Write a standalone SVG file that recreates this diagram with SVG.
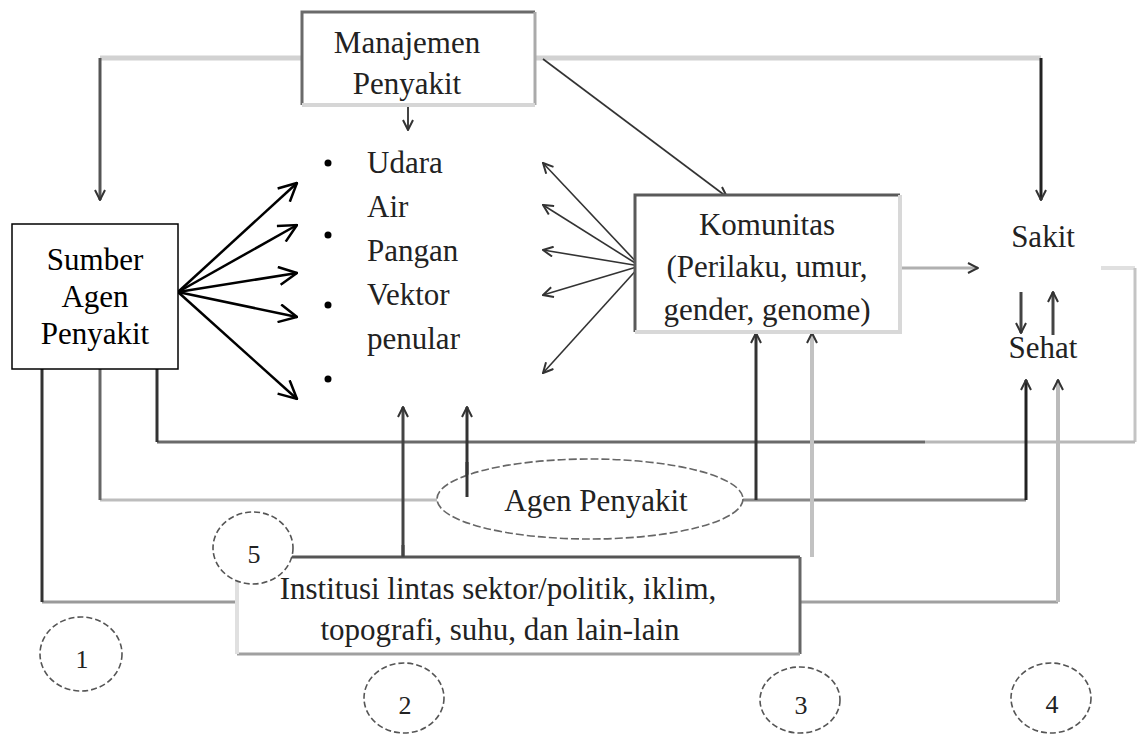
<svg xmlns="http://www.w3.org/2000/svg" width="1138" height="734" viewBox="0 0 1138 734">
<style>
text{font-family:"Liberation Serif","Times New Roman",serif;font-size:31px;fill:#222}
.crisp{fill:#000}
.num{font-size:26px;text-anchor:middle}
.c{text-anchor:middle}
.ring{fill:#fff;stroke:#555;stroke-width:1.6;stroke-dasharray:6 3}
.fan{stroke:#000;stroke-width:2.5;fill:none}
.thin{stroke:#333;stroke-width:1.6;fill:none}
</style>
<defs>
<marker id="big" viewBox="0 0 20 20" refX="19" refY="10" markerWidth="20" markerHeight="20" markerUnits="userSpaceOnUse" orient="auto">
<path d="M1,1 L19,10 L1,19" fill="none" stroke="#000" stroke-width="2.5"/>
</marker>
<marker id="sm" viewBox="0 0 12 12" refX="11" refY="6" markerWidth="12" markerHeight="12" markerUnits="userSpaceOnUse" orient="auto">
<path d="M1,1 L11,6 L1,11" fill="none" stroke="#333" stroke-width="2"/>
</marker>
</defs>
<rect width="1138" height="734" fill="#fff"/>

<g id="connectors" fill="none">
<!-- Manajemen to Sumber -->
<line x1="302" y1="58" x2="100" y2="58" stroke="#d2d2d2" stroke-width="5"/>
<line x1="100" y1="58" x2="100" y2="200" stroke="#555" stroke-width="3" marker-end="url(#sm)"/>
<!-- Manajemen to Sakit -->
<line x1="535" y1="58" x2="1041" y2="58" stroke="#d2d2d2" stroke-width="5"/>
<line x1="1041" y1="58" x2="1041" y2="200" stroke="#222" stroke-width="3" marker-end="url(#sm)"/>
<!-- Manajemen down to list -->
<line x1="408" y1="100" x2="408" y2="130" stroke="#444" stroke-width="2" marker-end="url(#sm)"/>
<!-- Manajemen diagonal to Komunitas -->
<line class="thin" x1="543" y1="59" x2="727" y2="197" marker-end="url(#sm)"/>
<!-- fan from Sumber -->
<line class="fan" x1="178" y1="292" x2="297" y2="183" marker-end="url(#big)"/>
<line class="fan" x1="178" y1="292" x2="297" y2="225" marker-end="url(#big)"/>
<line class="fan" x1="178" y1="292" x2="297" y2="273" marker-end="url(#big)"/>
<line class="fan" x1="178" y1="292" x2="297" y2="317" marker-end="url(#big)"/>
<line class="fan" x1="178" y1="292" x2="297" y2="399" marker-end="url(#big)"/>
<!-- Komunitas to list -->
<line class="thin" x1="640" y1="266" x2="543" y2="163" marker-end="url(#sm)"/>
<line class="thin" x1="640" y1="266" x2="543" y2="205" marker-end="url(#sm)"/>
<line class="thin" x1="640" y1="266" x2="543" y2="250" marker-end="url(#sm)"/>
<line class="thin" x1="640" y1="266" x2="543" y2="295" marker-end="url(#sm)"/>
<line class="thin" x1="640" y1="266" x2="543" y2="373" marker-end="url(#sm)"/>
<!-- Komunitas to Sakit -->
<line x1="900" y1="268" x2="978" y2="268" stroke="#b0b0b0" stroke-width="3" marker-end="url(#sm)"/>
<!-- Sakit / Sehat -->
<line x1="1021" y1="292" x2="1021" y2="333" stroke="#444" stroke-width="3" marker-end="url(#sm)"/>
<line x1="1053" y1="335" x2="1053" y2="292" stroke="#444" stroke-width="3" marker-end="url(#sm)"/>
<!-- loop from Sakit/Sehat back to Sumber -->
<line x1="1101" y1="268" x2="1135" y2="268" stroke="#e0e0e0" stroke-width="4"/>
<line x1="1135" y1="268" x2="1135" y2="442" stroke="#c4c4c4" stroke-width="3"/>
<line x1="1135" y1="442" x2="925" y2="442" stroke="#b8b8b8" stroke-width="3"/>
<line x1="925" y1="442" x2="157" y2="442" stroke="#6a6a6a" stroke-width="3"/>
<line x1="157" y1="442" x2="157" y2="348" stroke="#333" stroke-width="3" marker-end="url(#sm)"/>
<!-- Agen Penyakit to Sumber -->
<line x1="437" y1="500" x2="100" y2="500" stroke="#bdbdbd" stroke-width="3"/>
<line x1="100" y1="500" x2="100" y2="348" stroke="#666" stroke-width="3" marker-end="url(#sm)"/>
<!-- Institusi to Sumber -->
<line x1="237" y1="602" x2="42" y2="602" stroke="#9a9a9a" stroke-width="3"/>
<line x1="42" y1="602" x2="42" y2="348" stroke="#333" stroke-width="3" marker-end="url(#sm)"/>
<!-- up to list -->
<line x1="403" y1="557" x2="403" y2="407" stroke="#444" stroke-width="3" marker-end="url(#sm)"/>
<line x1="467" y1="497" x2="467" y2="407" stroke="#333" stroke-width="3" marker-end="url(#sm)"/>
<!-- Agen Penyakit right -->
<line x1="742" y1="500" x2="1026" y2="500" stroke="#888" stroke-width="3"/>
<line x1="756" y1="500" x2="756" y2="333" stroke="#333" stroke-width="3" marker-end="url(#sm)"/>
<line x1="1026" y1="500" x2="1026" y2="380" stroke="#222" stroke-width="3" marker-end="url(#sm)"/>
<!-- Institusi to Komunitas -->
<line x1="812" y1="557" x2="812" y2="333" stroke="#c2c2c2" stroke-width="4" marker-end="url(#sm)"/>
<!-- Institusi to Sehat -->
<line x1="800" y1="602" x2="1058" y2="602" stroke="#a0a0a0" stroke-width="3"/>
<line x1="1058" y1="602" x2="1058" y2="380" stroke="#bbb" stroke-width="4" marker-end="url(#sm)"/>
</g>

<g id="manajemen">
<rect x="302" y="12" width="233" height="93" fill="#fff"/>
<path d="M302,105 V12 H535" fill="none" stroke="#6a6a6a" stroke-width="3"/>
<path d="M535,12 V105" fill="none" stroke="#aaa" stroke-width="3"/>
<path d="M302,105 H535" fill="none" stroke="#d6d6d6" stroke-width="4"/>
<text class="c" x="407" y="53">Manajemen</text>
<text class="c" x="407" y="94">Penyakit</text>
</g>

<g id="sumber">
<rect x="12" y="224" width="166" height="145" fill="#fff" stroke="#000" stroke-width="1.5"/>
<text class="c crisp" x="95" y="270">Sumber</text>
<text class="c crisp" x="95" y="307">Agen</text>
<text class="c crisp" x="95" y="344">Penyakit</text>
</g>

<g id="list">
<circle cx="328" cy="163" r="3.5" fill="#000"/>
<circle cx="328" cy="235" r="3.5" fill="#000"/>
<circle cx="328" cy="305" r="3.5" fill="#000"/>
<circle cx="328" cy="379" r="3.5" fill="#000"/>
<text x="367" y="173">Udara</text>
<text x="367" y="217">Air</text>
<text x="367" y="261">Pangan</text>
<text x="367" y="305">Vektor</text>
<text x="367" y="349">penular</text>
</g>

<g id="komunitas">
<rect x="635" y="195" width="265" height="137" fill="#fff"/>
<path d="M635,332 V195 H900" fill="none" stroke="#5a5a5a" stroke-width="3"/>
<path d="M900,195 V332 H635" fill="none" stroke="#d8d8d8" stroke-width="4"/>
<text class="c" x="767" y="235">Komunitas</text>
<text class="c" x="767" y="277">(Perilaku, umur,</text>
<text class="c" x="767" y="320">gender, genome)</text>
</g>

<g id="sakit">
<text class="c" x="1043" y="247">Sakit</text>
</g>
<g id="sehat">
<text class="c" x="1043" y="358">Sehat</text>
</g>

<g id="agen">
<ellipse cx="590" cy="499" rx="153" ry="40" fill="#fff" stroke="#666" stroke-width="1.6" stroke-dasharray="8 3"/>
<line x1="467" y1="497" x2="467" y2="462" stroke="#333" stroke-width="3"/>
<text class="c" x="596" y="511">Agen Penyakit</text>
</g>

<g id="institusi">
<rect x="237" y="557" width="563" height="97" fill="#fff"/>
<path d="M237,557 H800" fill="none" stroke="#555" stroke-width="3"/>
<path d="M800,557 V654" fill="none" stroke="#666" stroke-width="3"/>
<path d="M237,654 H800" fill="none" stroke="#a0a0a0" stroke-width="3"/>
<path d="M237,557 V654" fill="none" stroke="#e0e0e0" stroke-width="4"/>
<line x1="403" y1="557" x2="403" y2="545" stroke="#444" stroke-width="3"/>
<text class="c" x="498" y="599">Institusi lintas sektor/politik, iklim,</text>
<text class="c" x="500" y="640">topografi, suhu, dan lain-lain</text>
</g>

<g id="n5"><ellipse class="ring" cx="253" cy="548" rx="40" ry="36"/><text class="num" x="254" y="563">5</text></g>
<g id="n1"><ellipse class="ring" cx="81" cy="654" rx="41" ry="37"/><text class="num" x="82" y="668">1</text></g>
<g id="n2"><ellipse class="ring" cx="404" cy="698" rx="40" ry="35"/><text class="num" x="405" y="714">2</text></g>
<g id="n3"><ellipse class="ring" cx="800" cy="700" rx="40" ry="33"/><text class="num" x="801" y="714">3</text></g>
<g id="n4"><ellipse class="ring" cx="1051" cy="698" rx="40" ry="35"/><text class="num" x="1052" y="713">4</text></g>
</svg>
